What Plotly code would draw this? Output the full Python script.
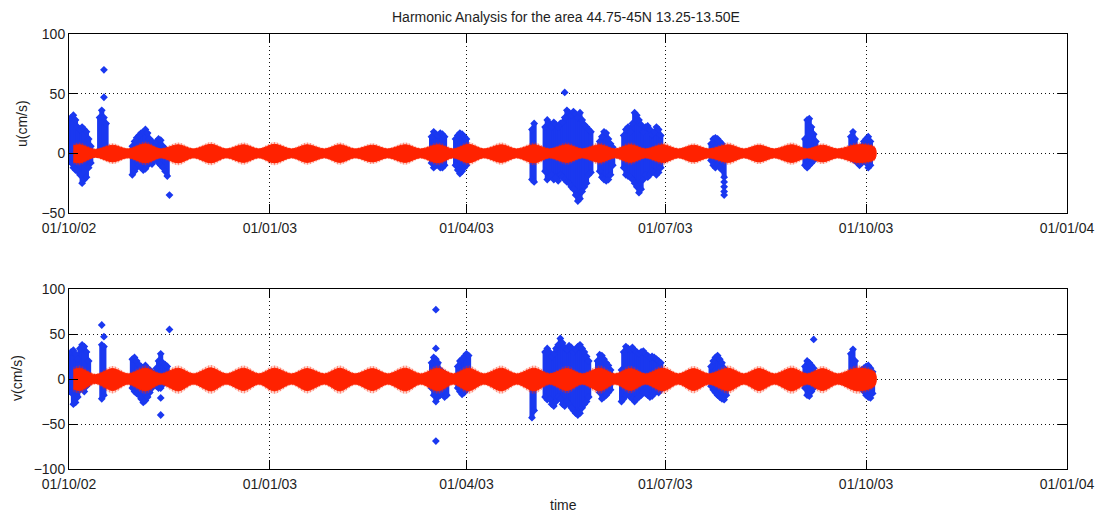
import plotly.graph_objects as go

# ---------------- data ----------------
title_text = "Harmonic Analysis for the area 44.75-45N 13.25-13.50E"
x_tick_dates = ["2002-10-01", "2003-01-01", "2003-04-01", "2003-07-01", "2003-10-01", "2004-01-01"]
x_tick_labels = ["01/10/02", "01/01/03", "01/04/03", "01/07/03", "01/10/03", "01/01/04"]
u_ticks = [-50, 0, 50, 100]
v_ticks = [-100, -50, 0, 50, 100]

# harmonic (tidal) prediction envelope: spring / neap extremes
env_dates = ["2002-10-03", "2002-10-06", "2002-10-13", "2002-10-21", "2002-10-28", "2002-11-05",
             "2002-11-12", "2002-11-20", "2002-11-27", "2002-12-05", "2002-12-12", "2002-12-20",
             "2002-12-27", "2003-01-03", "2003-01-11", "2003-01-18", "2003-01-26", "2003-02-02",
             "2003-02-09", "2003-02-17", "2003-02-24", "2003-03-04", "2003-03-11", "2003-03-19",
             "2003-03-26", "2003-04-02", "2003-04-09", "2003-04-17", "2003-04-24", "2003-05-02",
             "2003-05-09", "2003-05-17", "2003-05-24", "2003-06-01", "2003-06-08", "2003-06-15",
             "2003-06-22", "2003-06-30", "2003-07-07", "2003-07-14", "2003-07-21", "2003-07-30",
             "2003-08-06", "2003-08-13", "2003-08-20", "2003-08-28", "2003-09-04", "2003-09-11",
             "2003-09-18", "2003-09-27", "2003-10-05"]
u_env_hi = [8, 9, 4, 8.5, 4.5, 10, 4.5, 9, 4.5, 9.5, 4.5, 9, 4.5, 9.5, 4.5, 9, 4.5, 9, 4.5, 8.5,
            4.5, 9, 4.5, 9, 4.5, 9.5, 4.5, 9, 4.5, 9, 4.5, 9, 4.5, 9, 4.5, 9, 4.5, 9, 4.5, 8.5,
            4.5, 9, 4.5, 8.5, 4.5, 9, 4.5, 8.5, 4.5, 9, 6]
u_env_lo = [-9, -10, -4, -9, -4.5, -10, -4.5, -10, -4.5, -10, -4.5, -9.5, -4.5, -10, -4.5, -9.5,
            -4.5, -9.5, -4.5, -9, -4.5, -9.5, -4.5, -10, -4.5, -10, -4.5, -9.5, -4.5, -10, -4.5,
            -9.5, -4.5, -9.5, -4.5, -9.5, -4.5, -9.5, -4.5, -9, -4.5, -9.5, -4.5, -9, -4.5, -9.5,
            -4.5, -9, -4.5, -9.5, -6]
v_env_hi = [13, 15, 6, 14.5, 7, 15, 7, 15, 7, 15.5, 7, 15, 7, 15, 7, 14.5, 7, 15, 7, 14.5, 7,
            15, 7, 15, 7, 15, 7, 15, 7, 15, 7, 14.5, 7, 15, 7, 14.5, 7, 15, 7, 14.5, 7, 15, 7,
            14.5, 7, 15, 7, 14.5, 7, 15, 9]
v_env_lo = [-14, -16, -6, -16, -7, -16.5, -7, -16.5, -7, -16.5, -7, -16, -7, -16.5, -7, -16, -7,
            -16.5, -7, -16, -7, -16.5, -7, -16.5, -7, -16.5, -7, -16.5, -7, -16.5, -7, -16, -7,
            -16.5, -7, -16, -7, -16.5, -7, -16, -7, -16.5, -7, -16, -7, -16.5, -7, -16, -7,
            -16.5, -9]

# observed u: daily min / max of the measured points
u_obs_dates = ["2002-10-02", "2002-10-03", "2002-10-04", "2002-10-05", "2002-10-06", "2002-10-07",
               "2002-10-08", "2002-10-09", "2002-10-10", "2002-10-11",
               "2002-10-15", "2002-10-16", "2002-10-17", "2002-10-18",
               "2002-10-30", "2002-10-31", "2002-11-01", "2002-11-02", "2002-11-03", "2002-11-04",
               "2002-11-05", "2002-11-06", "2002-11-07", "2002-11-08", "2002-11-09",
               "2002-11-10", "2002-11-11", "2002-11-12", "2002-11-13", "2002-11-14", "2002-11-15",
               "2003-03-16", "2003-03-17", "2003-03-18", "2003-03-19", "2003-03-20", "2003-03-21",
               "2003-03-22",
               "2003-03-27", "2003-03-28", "2003-03-29", "2003-03-30", "2003-03-31", "2003-04-01",
               "2003-05-01", "2003-05-02",
               "2003-05-07", "2003-05-08", "2003-05-09", "2003-05-10", "2003-05-11", "2003-05-12",
               "2003-05-13", "2003-05-14", "2003-05-15", "2003-05-16", "2003-05-17", "2003-05-18",
               "2003-05-19", "2003-05-20", "2003-05-21", "2003-05-22", "2003-05-23", "2003-05-24",
               "2003-05-25", "2003-05-26", "2003-05-27", "2003-05-28",
               "2003-06-01", "2003-06-02", "2003-06-03", "2003-06-04", "2003-06-05", "2003-06-06",
               "2003-06-07",
               "2003-06-12", "2003-06-13", "2003-06-14", "2003-06-15", "2003-06-16", "2003-06-17",
               "2003-06-18", "2003-06-19", "2003-06-20", "2003-06-21", "2003-06-22", "2003-06-23",
               "2003-06-24", "2003-06-25", "2003-06-26", "2003-06-27", "2003-06-28", "2003-06-29",
               "2003-07-22", "2003-07-23", "2003-07-24", "2003-07-25", "2003-07-26", "2003-07-27",
               "2003-07-28",
               "2003-09-03", "2003-09-04", "2003-09-05", "2003-09-06", "2003-09-07", "2003-09-08",
               "2003-09-24", "2003-09-25", "2003-09-26", "2003-09-27", "2003-09-28", "2003-09-29",
               "2003-09-30", "2003-10-01", "2003-10-02", "2003-10-03"]
u_obs_lo = [-8, -12, -14, -15, -18, -25, -22, -20, -12, -8,
            3, 5, 8, 2,
            -18, -15, -12, -10, -12, -14, -13, -10, -8, -9, -6,
            -5, -8, -10, -12, -15, -19,
            -8, -12, -10, -8, -12, -12, -10,
            -10, -14, -17, -15, -12, -10,
            -22, -24,
            -15, -22, -20, -18, -22, -20, -23, -18, -20, -22, -24, -25, -28, -30, -35, -40, -38,
            -32, -28, -25, -18, -16,
            -15, -20, -22, -23, -22, -18, -10,
            -12, -18, -19, -20, -22, -25, -28, -33, -30, -22, -18, -20, -18, -15, -16, -18, -16,
            -12,
            -6, -10, -12, -10, -12, -14, -20,
            -10, -12, -10, -8, -6, -4,
            -4, -5, -6, -8, -10, -8, -6, -8, -12, -10]
u_obs_hi = [30, 32, 28, 22, 20, 22, 20, 18, 12, 6,
            30, 36, 30, 25,
            6, 10, 13, 15, 17, 18, 20, 17, 12, 10, 6,
            10, 12, 11, 6, 4, 0,
            14, 18, 16, 15, 17, 16, 14,
            12, 15, 17, 16, 14, 12,
            20, 25,
            22, 28, 25, 22, 26, 24, 22, 25, 26, 30, 36, 34, 32, 35, 33, 30, 34, 28, 24, 22, 20, 18,
            10, 14, 18, 17, 12, 8, 5,
            15, 20, 22, 18, 25, 34, 32, 28, 24, 18, 22, 23, 20, 16, 18, 22, 20, 15,
            8, 12, 13, 12, 10, 8, 4,
            12, 28, 29, 22, 16, 10,
            14, 18, 12, 4, 2, 6, 10, 12, 14, 10]
u_out_dates = ["2002-10-17", "2002-10-17", "2002-11-16", "2003-05-16",
               "2003-07-28", "2003-07-28", "2003-07-28", "2003-07-28"]
u_out_vals = [70, 47, -35, 51, -24, -28, -32, -35]

# observed v: daily min / max of the measured points
v_obs_dates = ["2002-10-02", "2002-10-03", "2002-10-04", "2002-10-05", "2002-10-06", "2002-10-07",
               "2002-10-08", "2002-10-09", "2002-10-10",
               "2002-10-16", "2002-10-17",
               "2002-10-30", "2002-10-31", "2002-11-01", "2002-11-02", "2002-11-03", "2002-11-04",
               "2002-11-05", "2002-11-06", "2002-11-07", "2002-11-08",
               "2002-11-10", "2002-11-11", "2002-11-12", "2002-11-13", "2002-11-14", "2002-11-15",
               "2003-03-16", "2003-03-17", "2003-03-18", "2003-03-19", "2003-03-20", "2003-03-21",
               "2003-03-22", "2003-03-23",
               "2003-03-28", "2003-03-29", "2003-03-30", "2003-03-31", "2003-04-01", "2003-04-02",
               "2003-05-01", "2003-05-02",
               "2003-05-07", "2003-05-08", "2003-05-09", "2003-05-10", "2003-05-11", "2003-05-12",
               "2003-05-13", "2003-05-14", "2003-05-15", "2003-05-16", "2003-05-17", "2003-05-18",
               "2003-05-19", "2003-05-20", "2003-05-21", "2003-05-22", "2003-05-23", "2003-05-24",
               "2003-05-25", "2003-05-26", "2003-05-27",
               "2003-05-31", "2003-06-01", "2003-06-02", "2003-06-03", "2003-06-04", "2003-06-05",
               "2003-06-06",
               "2003-06-11", "2003-06-12", "2003-06-13", "2003-06-14", "2003-06-15", "2003-06-16",
               "2003-06-17", "2003-06-18", "2003-06-19", "2003-06-20", "2003-06-21", "2003-06-22",
               "2003-06-23", "2003-06-24", "2003-06-25", "2003-06-26", "2003-06-27", "2003-06-28",
               "2003-06-29",
               "2003-07-22", "2003-07-23", "2003-07-24", "2003-07-25", "2003-07-26", "2003-07-27",
               "2003-07-28", "2003-07-29",
               "2003-09-03", "2003-09-04", "2003-09-05", "2003-09-06", "2003-09-07",
               "2003-09-24", "2003-09-25", "2003-09-26", "2003-09-29", "2003-09-30", "2003-10-01",
               "2003-10-02", "2003-10-03", "2003-10-04"]
v_obs_lo = [-15, -28, -26, -20, -12, -10, -14, -8, -5,
            -22, -18,
            -10, -14, -16, -18, -22, -26, -24, -20, -15, -10,
            -8, -10, -10, -6, -4, -2,
            -10, -18, -25, -20, -18, -15, -20, -18,
            -10, -14, -17, -15, -12, -8,
            -43, -35,
            -20, -23, -22, -28, -30, -25, -20, -22, -28, -30, -25, -28, -32, -35, -38, -40, -38,
            -32, -28, -25, -20,
            -10, -15, -22, -20, -18, -15, -12,
            -25, -22, -18, -15, -20, -22, -25, -22, -20, -18, -15, -16, -18, -20, -19, -16, -14,
            -15, -12,
            -8, -12, -15, -18, -20, -22, -23, -18,
            -10, -18, -19, -14, -10,
            2, 0, -2, -10, -14, -18, -20, -21, -16]
v_obs_hi = [30, 32, 28, 22, 34, 38, 36, 30, 20,
            38, 36,
            22, 24, 20, 16, 14, 12, 15, 12, 10, 8,
            12, 20, 28, 18, 16, 14,
            18, 24, 22, 18, 10, 8, 6, 4,
            14, 20, 22, 25, 28, 26,
            2, 0,
            30, 34, 30, 25, 28, 34, 38, 45, 40, 35, 33, 37, 35, 30, 33, 36, 38, 34, 30, 25, 20,
            20, 27, 26, 22, 18, 15, 10,
            10, 30, 36, 34, 33, 35, 32, 30, 28, 30, 31, 28, 26, 24, 25, 24, 22, 20, 18,
            14, 20, 24, 26, 22, 18, 12, 8,
            14, 20, 18, 15, 12,
            28, 33, 20, 10, 12, 14, 15, 12, 8]
v_out_dates = ["2002-10-16", "2002-10-17", "2002-11-12", "2002-11-12", "2002-11-16",
               "2003-03-18", "2003-03-18", "2003-03-18", "2003-09-07"]
v_out_vals = [60, 47, -21, -40, 55, 77, 34, -69, 44]

# ---------------- styling ----------------
BLUE = "#1a38f0"
RED = "#ff2200"
TXT = "#1e1e1e"
FONT = "Liberation Sans, Arial, sans-serif"
W, H = 1099, 515
xl, xr = 69, 1067
panels = [(34, 213), (289, 469)]
CORE = 0.8  # solid core share of the hatched tidal band


def seg_xy(dates, lo, hi):
    xs, ys = [], []
    for d, a, b in zip(dates, lo, hi):
        xs += [d, d, None]
        ys += [a, b, None]
    return xs, ys


def env_xy(dates, hi, lo, k=1.0):
    return list(dates) + list(dates[::-1]), [k * v for v in hi] + [k * v for v in lo[::-1]]


fig = go.Figure()

series = [
    ("x", "y", u_obs_dates, u_obs_lo, u_obs_hi, u_out_dates, u_out_vals, u_env_hi, u_env_lo),
    ("x2", "y2", v_obs_dates, v_obs_lo, v_obs_hi, v_out_dates, v_out_vals, v_env_hi, v_env_lo),
]
for xa, ya, od, olo, ohi, outd, outv, ehi, elo in series:
    sx, sy = seg_xy(od, olo, ohi)
    fig.add_trace(go.Scatter(x=sx, y=sy, xaxis=xa, yaxis=ya, mode="lines+markers",
                             line=dict(color=BLUE, width=5),
                             marker=dict(symbol="diamond", size=6, color=BLUE),
                             showlegend=False, hoverinfo="skip"))
    fig.add_trace(go.Scatter(x=outd, y=outv, xaxis=xa, yaxis=ya, mode="markers",
                             marker=dict(symbol="diamond", size=6, color=BLUE),
                             showlegend=False, hoverinfo="skip"))
    # hatched outer band (tidal oscillation tips)
    ex, ey = env_xy(env_dates, ehi, elo)
    fig.add_trace(go.Scatter(x=ex, y=ey, xaxis=xa, yaxis=ya, mode="lines",
                             line=dict(color="rgba(0,0,0,0)", width=0, shape="spline",
                                       smoothing=0.9),
                             fill="toself", fillcolor="rgba(0,0,0,0)",
                             fillpattern=dict(shape="|", fgcolor=RED, bgcolor="rgba(0,0,0,0)",
                                              size=3, solidity=0.6),
                             showlegend=False, hoverinfo="skip"))
    # solid core
    cx, cy = env_xy(env_dates, ehi, elo, CORE)
    fig.add_trace(go.Scatter(x=cx, y=cy, xaxis=xa, yaxis=ya, mode="lines",
                             line=dict(color=RED, width=1, shape="spline", smoothing=0.9),
                             fill="toself", fillcolor=RED,
                             showlegend=False, hoverinfo="skip"))

axis_common = dict(showline=True, linecolor="black", linewidth=1, mirror="ticks",
                   ticks="inside", ticklen=9, tickcolor="black", tickwidth=1,
                   showgrid=True, gridcolor="#111111", gridwidth=1, griddash="1px,3px",
                   zeroline=False, automargin=False,
                   tickfont=dict(family=FONT, size=14, color=TXT))

layout = dict(width=W, height=H, margin=dict(l=0, r=0, t=0, b=0),
              paper_bgcolor="white", plot_bgcolor="white",
              font=dict(family=FONT, size=14, color=TXT))
for i, (top, bot) in enumerate(panels):
    sfx = "" if i == 0 else str(i + 1)
    layout["xaxis" + sfx] = dict(axis_common, domain=[xl / W, xr / W], type="date",
                                 range=["2002-10-01", "2004-01-01"],
                                 tickmode="array", tickvals=x_tick_dates, ticktext=x_tick_labels,
                                 ticklabelstandoff=2, anchor="y" + sfx)
    layout["yaxis" + sfx] = dict(axis_common, domain=[1 - bot / H, 1 - top / H],
                                 range=[-50, 100] if i == 0 else [-100, 100],
                                 tickmode="array", tickvals=u_ticks if i == 0 else v_ticks,
                                 anchor="x" + sfx)
fig.update_layout(**layout)

ann = [
    dict(text=title_text, x=566 / W, y=1 - 17 / H),
    dict(text="time", x=563 / W, y=1 - 505 / H),
]
for a in ann:
    fig.add_annotation(text=a["text"], x=a["x"], y=a["y"], xref="paper", yref="paper",
                       showarrow=False, xanchor="center", yanchor="middle",
                       font=dict(family=FONT, size=14, color=TXT))
fig.add_annotation(text="u(cm/s)", x=22 / W, y=1 - 124 / H, xref="paper", yref="paper",
                   showarrow=False, textangle=-90, xanchor="center", yanchor="middle",
                   font=dict(family=FONT, size=14, color=TXT))
fig.add_annotation(text="v(cm/s)", x=17 / W, y=1 - 378 / H, xref="paper", yref="paper",
                   showarrow=False, textangle=-90, xanchor="center", yanchor="middle",
                   font=dict(family=FONT, size=14, color=TXT))

fig.write_html("out.html")
